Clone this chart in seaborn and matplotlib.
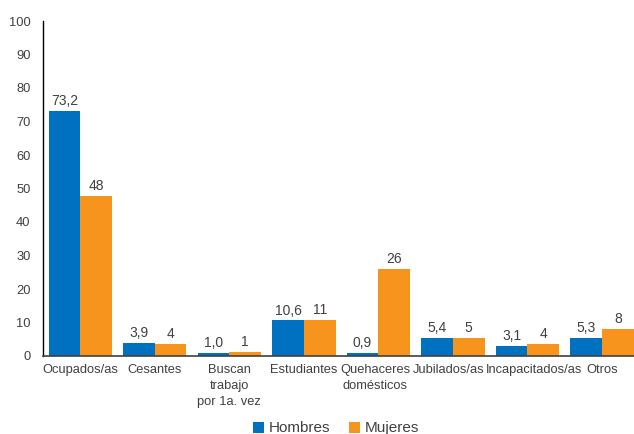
import numpy as np
import pandas as pd
import matplotlib
matplotlib.use("Agg")
import matplotlib.pyplot as plt
import matplotlib.transforms as mtransforms
import seaborn as sns

sns.set_theme(style="white")
plt.rcParams['font.family'] = ['Liberation Sans', 'DejaVu Sans']

categorias = ["Ocupados/as", "Cesantes", "Buscan\ntrabajo\npor 1a. vez", "Estudiantes",
              "Quehaceres\ndomésticos", "Jubilados/as", "Incapacitados/as", "Otros"]
hombres = [73.2, 3.9, 1.0, 10.6, 0.9, 5.4, 3.1, 5.3]
mujeres = [47.7, 3.6, 1.2, 10.8, 25.9, 5.4, 3.6, 8.1]
hombres_lbl = ["73,2", "3,9", "1,0", "10,6", "0,9", "5,4", "3,1", "5,3"]
mujeres_lbl = ["48", "4", "1", "11", "26", "5", "4", "8"]

df = pd.DataFrame({
    "cat": categorias * 2,
    "valor": hombres + mujeres,
    "sexo": ["Hombres"] * len(categorias) + ["Mujeres"] * len(categorias),
})

txt = "#404040"
fig = plt.figure(figsize=(6.34, 4.34), dpi=100)
ax = fig.add_axes([43/634, 78/434, 591/634, 335/434])
sns.barplot(data=df, x="cat", y="valor", hue="sexo", order=categorias,
            palette={"Hombres": "#0070C0", "Mujeres": "#F7941D"},
            width=0.85, saturation=1, linewidth=0, ax=ax)

for cont, lbl in zip(ax.containers, [hombres_lbl, mujeres_lbl]):
    ax.bar_label(cont, labels=lbl, padding=2, fontsize=10, color=txt)

ax.set_ylim(0, 100)
ax.set_yticks(np.arange(0, 101, 10))
ax.set_xlim(-0.5, 7.43)
ax.set_xlabel("")
ax.set_ylabel("")
ax.tick_params(axis="y", length=0, labelsize=9.3, labelcolor=txt, pad=9)
ax.tick_params(axis="x", length=0, labelsize=9.3, labelcolor=txt, pad=6)
sns.despine(ax=ax, top=True, right=True)
ax.spines["left"].set_color("#000000")
ax.spines["left"].set_linewidth(1)
ax.spines["bottom"].set_color("#404040")
ax.spines["bottom"].set_linewidth(1.2)

# nudge crowded category labels apart, as in the original
shifts = {4: -3, 5: -4, 6: 7}
for i, t in enumerate(ax.get_xticklabels()):
    t.set_linespacing(1.4)
    if i in shifts:
        t.set_transform(t.get_transform() +
                        mtransforms.ScaledTranslation(shifts[i] / 100, 0, fig.dpi_scale_trans))

ax.legend_.remove()
handles, labels = ax.get_legend_handles_labels()
fig.legend(handles, labels, loc="lower center", bbox_to_anchor=(0.53, -0.035), ncol=2,
           frameon=False, fontsize=11, handlelength=0.75, handleheight=0.75,
           handletextpad=0.3, columnspacing=1.2, labelcolor=txt)

fig.savefig("out.png", dpi=100)
